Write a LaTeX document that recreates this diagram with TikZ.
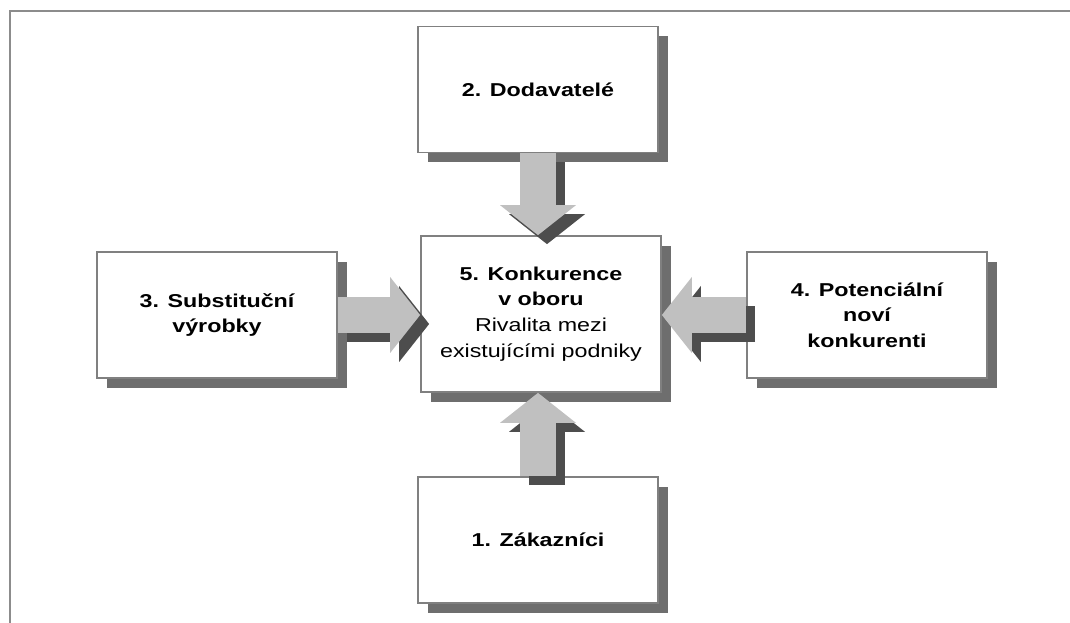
\documentclass[tikz,border=0pt]{standalone}
\usepackage{fontspec}
\setmainfont{Liberation Sans}[FakeStretch=1.25]
\usetikzlibrary{arrows.meta,shadows}
\definecolor{boxline}{HTML}{808080}
\definecolor{boxshade}{HTML}{6E6E6E}
\definecolor{arrowfill}{HTML}{C0C0C0}
\definecolor{arrowshade}{HTML}{4D4D4D}
\definecolor{framegray}{HTML}{8C8C8C}
\tikzset{
  force/.style={draw=boxline, line width=0.5pt, fill=white, minimum width=2.4cm,
    minimum height=1.26cm, align=center, inner sep=0pt,
    font=\fontsize{5.3}{7.3}\selectfont\bfseries,
    drop shadow={shadow xshift=0.1cm, shadow yshift=-0.1cm, fill=boxshade, opacity=1}},
  push/.style={line width=0.36cm, -{Triangle[width=0.76cm, length=0.30cm, line width=0pt]}},
  pushbody/.style={push, draw=arrowfill},
  pushshade/.style={push, draw=arrowshade, transform canvas={shift={(0.09,-0.09)}}}
}
\newcommand{\Push}[2]{%
  \draw[pushshade] (#1) -- (#2);
  \draw[pushbody] (#1) -- (#2);}

\begin{document}
\begin{tikzpicture}
\useasboundingbox (0,0) rectangle (10.70,6.23);
\draw[framegray, line width=0.6pt] (0.10,0) -- (0.10,6.12) -- (10.70,6.12);
\node[force] (sup) at (5.38,5.335) {2. Dodavatelé};
\node[force, minimum height=1.56cm] (riv) at (5.41,3.09) {5. Konkurence\\v oboru\\{\mdseries Rivalita mezi}\\{\mdseries existujícími podniky}};
\node[force] (sub) at (2.17,3.08) {3. Substituční\\výrobky};
\node[force] (new) at (8.67,3.08) {4. Potenciální\\noví\\konkurenti};
\node[force] (cus) at (5.38,0.83) {1. Zákazníci};
\Push{sup.south}{sup.south |- riv.north}
\Push{cus.north}{cus.north |- riv.south}
\Push{sub.east}{riv.west |- sub.east}
\Push{new.west}{riv.east |- new.west}
\end{tikzpicture}
\end{document}
